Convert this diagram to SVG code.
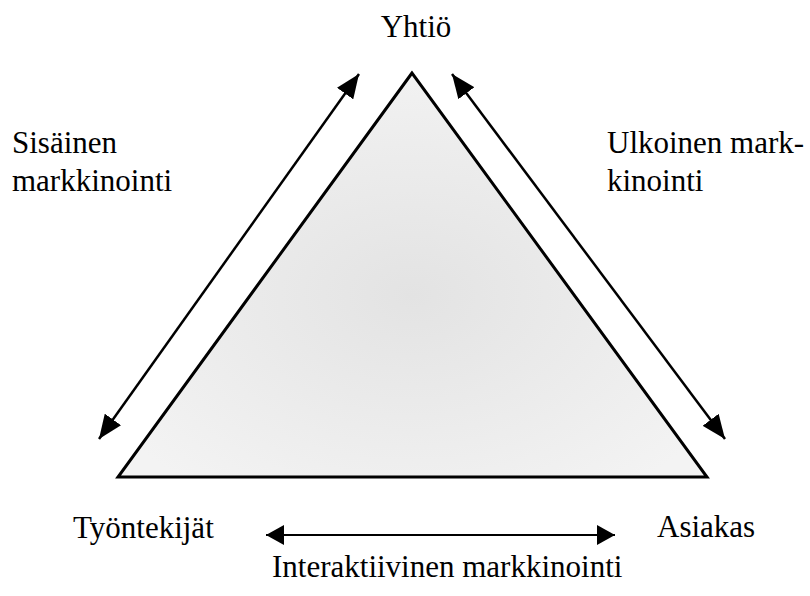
<svg xmlns="http://www.w3.org/2000/svg" width="810" height="596" viewBox="0 0 810 596">
  <defs>
    <marker id="headD" markerUnits="userSpaceOnUse" markerWidth="24" markerHeight="20" refX="24" refY="10" orient="auto-start-reverse">
      <path d="M0,0 L24,10 L0,20 z" fill="#000"/>
    </marker>
    <marker id="headH" markerUnits="userSpaceOnUse" markerWidth="18" markerHeight="20" refX="18" refY="10" orient="auto-start-reverse">
      <path d="M0,0 L18,10 L0,20 z" fill="#000"/>
    </marker>
    <radialGradient id="stip" cx="0.5" cy="0.55" r="0.6">
      <stop offset="0" stop-color="#e3e3e3"/>
      <stop offset="1" stop-color="#f3f3f3"/>
    </radialGradient>
  </defs>
  <style>
    text { font-family: "Liberation Serif", "Times New Roman", serif; font-size: 31px; fill: #000; }
    .conn { stroke: #000; fill: none; }
  </style>
  <rect width="810" height="596" fill="#fff"/>

  <g id="triangle">
    <polygon points="412,73 118,477 707,477" fill="url(#stip)" stroke="#000" stroke-width="3" stroke-linejoin="miter"/>
  </g>

  <g id="node-yhtio">
    <text x="416" y="37" text-anchor="middle">Yhtiö</text>
  </g>
  <g id="node-tyontekijat">
    <text x="73" y="538">Työntekijät</text>
  </g>
  <g id="node-asiakas">
    <text x="657" y="537">Asiakas</text>
  </g>
  <g id="label-sisainen">
    <text x="12" y="153">Sisäinen</text>
    <text x="12" y="191">markkinointi</text>
  </g>
  <g id="label-ulkoinen">
    <text x="607" y="153">Ulkoinen mark-</text>
    <text x="607" y="191">kinointi</text>
  </g>
  <g id="label-interaktiivinen">
    <text x="272" y="577">Interaktiivinen markkinointi</text>
  </g>

  <g id="connectors">
    <line class="conn" x1="359" y1="74" x2="99" y2="439" stroke-width="2.5" marker-start="url(#headD)" marker-end="url(#headD)"/>
    <line class="conn" x1="452" y1="74" x2="725" y2="439" stroke-width="2.5" marker-start="url(#headD)" marker-end="url(#headD)"/>
    <line class="conn" x1="266" y1="535" x2="615" y2="535" stroke-width="2" marker-start="url(#headH)" marker-end="url(#headH)"/>
  </g>
</svg>
